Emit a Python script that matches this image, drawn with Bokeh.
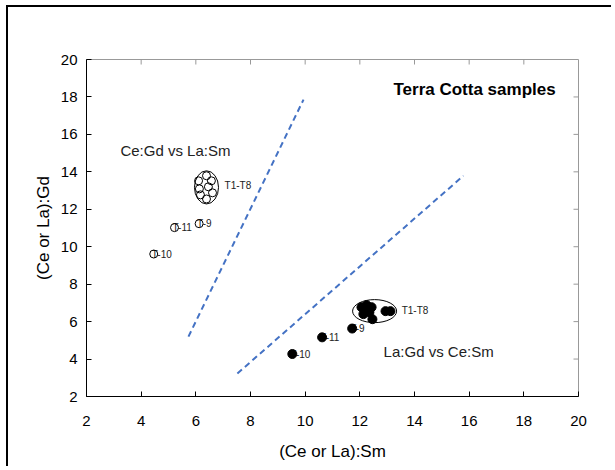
import math
from bokeh.plotting import figure
from bokeh.models import LinearAxis, Range1d, FixedTicker
from bokeh.core.properties import value
from bokeh.embed import file_html
from bokeh.resources import INLINE

# ---- data ----
# Ce:Gd vs La:Sm (open circles)
open_cluster_x = [6.39, 6.10, 6.46, 6.13, 6.17, 6.39, 6.57, 6.61]
open_cluster_y = [13.79, 13.52, 13.20, 13.09, 12.77, 12.55, 13.52, 12.88]
open_ind_x = [6.12, 5.22, 4.46]
open_ind_y = [11.23, 11.02, 9.61]
open_ind_lab = ["T-9", "T-11", "T-10"]

# La:Gd vs Ce:Sm (filled circles)
fill_cluster_x = [12.06, 12.25, 12.43, 12.13, 12.35, 12.46, 12.94, 13.12]
fill_cluster_y = [6.77, 6.88, 6.77, 6.40, 6.50, 6.13, 6.56, 6.56]
fill_ind_x = [11.72, 10.62, 9.53]
fill_ind_y = [5.63, 5.16, 4.27]
fill_ind_lab = ["T-9", "T-11", "T-10"]

# group ellipses: center x, center y, width, height
ell_x = [6.39, 12.54]
ell_y = [13.17, 6.56]
ell_w = [0.88, 1.61]
ell_h = [1.77, 1.23]

# dashed divider lines
line1_x = [5.73, 9.94]
line1_y = [5.2, 17.86]
line2_x = [7.52, 15.79]
line2_y = [3.23, 13.79]

ticks = [2, 4, 6, 8, 10, 12, 14, 16, 18, 20]
inner_ticks = [4, 6, 8, 10, 12, 14, 16, 18]
x_min, x_max, y_min, y_max = 2, 20, 2, 20

FONT = "Liberation Sans"
GRAY = "#999999"

p = figure(width=605, height=461, output_backend="svg", toolbar_location=None,
           x_range=Range1d(x_min, x_max), y_range=Range1d(y_min, y_max),
           x_axis_location=None, y_axis_location=None,
           min_border_left=78, min_border_right=35, min_border_top=52, min_border_bottom=72)
p.styles = {"margin-left": "6px", "margin-top": "5px",
            "border-left": "2px solid black", "border-top": "2px solid black"}
p.grid.visible = False
p.outline_line_color = GRAY
p.background_fill_color = "white"
p.border_fill_color = "white"

def mk_axis(label, label_standoff, tick_standoff):
    ax = LinearAxis(ticker=FixedTicker(ticks=ticks))
    ax.axis_line_color = "black"
    ax.major_tick_line_color = "black"
    ax.major_tick_in = 5
    ax.major_tick_out = 0
    ax.minor_tick_line_color = None
    ax.major_label_text_font = FONT
    ax.major_label_text_font_size = "15px"
    ax.major_label_text_color = "black"
    ax.major_label_standoff = tick_standoff
    ax.axis_label = label
    ax.axis_label_text_font = FONT
    ax.axis_label_text_font_size = "17px"
    ax.axis_label_text_font_style = "normal"
    ax.axis_label_text_color = "black"
    ax.axis_label_standoff = label_standoff
    return ax

p.add_layout(mk_axis("(Ce or La):Sm", 13, 19), "below")
p.add_layout(mk_axis("(Ce or La):Gd", 5, 9), "left")

# gray inward ticks on the top and right spines (clipped to the frame)
p.scatter(inner_ticks, [y_max] * len(inner_ticks), marker="dash", size=10, angle=math.pi / 2,
          line_color=GRAY, line_width=1)
p.scatter([x_max] * len(inner_ticks), inner_ticks, marker="dash", size=10,
          line_color=GRAY, line_width=1)

# dashed lines
p.line(line1_x, line1_y, line_color="#4472C4", line_width=2, line_dash="6 4")
p.line(line2_x, line2_y, line_color="#4472C4", line_width=2, line_dash="6 4")

# labels beneath markers
p.text(open_ind_x, open_ind_y, text=open_ind_lab, x_offset=-2, text_baseline="middle",
       text_font=value(FONT), text_font_size="10px", text_color="#222222")
p.text(fill_ind_x, fill_ind_y, text=fill_ind_lab, x_offset=-2, text_baseline="middle",
       text_font=value(FONT), text_font_size="10px", text_color="#222222")

# ellipses
p.ellipse(ell_x, ell_y, width=ell_w, height=ell_h, fill_color=None, line_color="black", line_width=1)

# markers
p.scatter(open_cluster_x, open_cluster_y, size=8, marker="circle", fill_color=None,
          line_color="black", line_width=1)
p.scatter(open_ind_x, open_ind_y, size=8, marker="circle", fill_color=None,
          line_color="black", line_width=1)
p.scatter(fill_cluster_x, fill_cluster_y, size=9, marker="circle", fill_color="black",
          line_color="black")
p.scatter(fill_ind_x, fill_ind_y, size=9, marker="circle", fill_color="black",
          line_color="black")

# annotations
p.text([7.05], [13.25], text=["T1-T8"], text_baseline="middle",
       text_font=value(FONT), text_font_size="10px", text_color="#222222")
p.text([13.53], [6.61], text=["T1-T8"], text_baseline="middle",
       text_font=value(FONT), text_font_size="10px", text_color="#222222")
p.text([13.23], [18.39], text=["Terra Cotta samples"], text_baseline="middle",
       text_font=value(FONT), text_font_size="17px", text_font_style="bold", text_color="black")
p.text([3.24], [15.13], text=["Ce:Gd vs La:Sm"], text_baseline="middle",
       text_font=value(FONT), text_font_size="15px", text_color="#222222")
p.text([12.87], [4.41], text=["La:Gd vs Ce:Sm"], text_baseline="middle",
       text_font=value(FONT), text_font_size="15px", text_color="#222222")

open("out.html", "w").write(file_html(p, INLINE))
